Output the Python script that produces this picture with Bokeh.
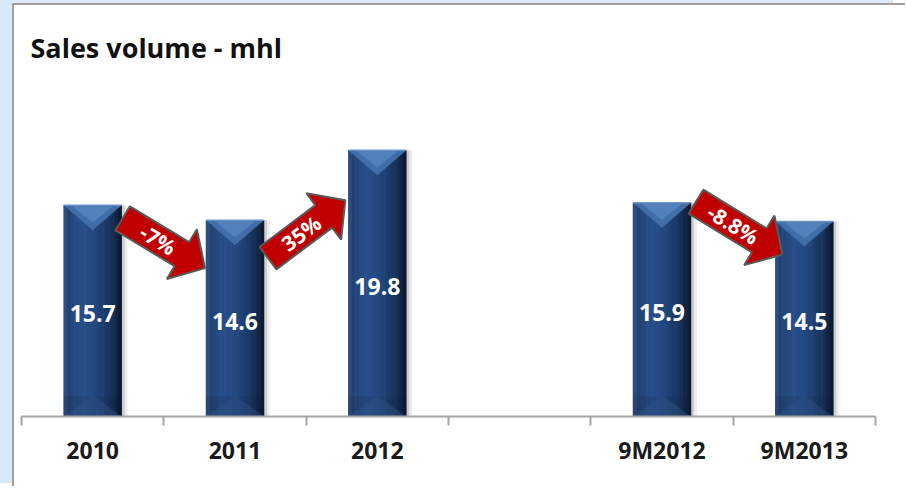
import math
from bokeh.plotting import figure
from bokeh.models import FixedTicker, Range1d
from bokeh.core.properties import value
from bokeh.embed import file_html
from bokeh.resources import INLINE

# ---------------- data ----------------
title_text = "Sales volume - mhl"
annual_labels = ["2010", "2011", "2012"]
annual_volume = [15.7, 14.6, 19.8]
nine_month_labels = ["9M2012", "9M2013"]
nine_month_volume = [15.9, 14.5]
change_labels = ["-7%", "35%", "-8.8%"]
change_pairs = [(0, 1), (1, 2), (3, 4)]

labels = annual_labels + nine_month_labels
volumes = annual_volume + nine_month_volume
slots = list(range(len(annual_labels))) + [len(annual_labels) + 1 + i for i in range(len(nine_month_labels))]
n_slots = slots[-1] + 1

# ---------------- geometry (image pixels) ----------------
CX0, CY0 = 14, 5          # image position of the canvas (inside the frame border)
W, H = 893, 483
AX_L, AX_R = 21, 875      # ends of the category axis
BASE = 416                # baseline
S_X = (AX_R - AX_L) / n_slots
S_Y = 13.45
FRAME_BOTTOM = 418

def x_of(px):
    return -0.5 + (px - AX_L) / S_X

def y_of(py):
    return (BASE - py) / S_Y

def px_of(x):
    return AX_L + (x + 0.5) * S_X

def py_of(y):
    return BASE - y * S_Y

FONT = value("Open Sans")

p = figure(width=W, height=H, output_backend="svg", toolbar_location=None,
           x_range=Range1d(x_of(CX0), x_of(CX0 + W)),
           y_range=Range1d(y_of(FRAME_BOTTOM), y_of(CY0)),
           min_border_left=0, min_border_right=0, min_border_top=0,
           min_border_bottom=CY0 + H - FRAME_BOTTOM)
p.yaxis.visible = False
p.xgrid.visible = False
p.ygrid.visible = False
p.outline_line_color = None
p.background_fill_color = "white"
p.border_fill_color = "white"
p.styles = {"border-left": "2px solid #a0a0a0", "border-top": "2px solid #a0a0a0",
            "margin-left": "12px", "margin-top": "3px",
            "box-shadow": "-12px -3px 0 0 #d9e9f7"}

# ---------------- axis ----------------
ax = p.xaxis[0]
ax.ticker = FixedTicker(ticks=slots, minor_ticks=[i - 0.5 for i in range(n_slots + 1)])
ax.major_label_overrides = {s: l for s, l in zip(slots, labels)}
ax.axis_line_color = None
ax.major_tick_line_color = None
ax.major_tick_in = 0
ax.major_tick_out = 0
ax.minor_tick_line_color = "#a6a6a6"
ax.minor_tick_line_width = 2
ax.minor_tick_in = 2
ax.minor_tick_out = 7
ax.major_label_standoff = 8
ax.major_label_text_font = "Open Sans"
ax.major_label_text_font_style = "bold"
ax.major_label_text_font_size = "23px"
ax.major_label_text_color = "#1a1a1a"

# ---------------- bars ----------------
BAR_W = 58 / S_X
half = BAR_W / 2

# soft shadow
for off, alpha, grow in [(4, 0.07, 4), (2, 0.13, 2)]:
    p.vbar(x=[s + off / S_X for s in slots], top=volumes,
           bottom=0, width=BAR_W + grow / S_X, fill_color="black", fill_alpha=alpha,
           line_color=None)

profile = [(0.0, (0x3a, 0x56, 0x80)), (0.07, (0x22, 0x41, 0x72)), (0.33, (0x28, 0x4f, 0x8b)),
           (0.6, (0x20, 0x44, 0x79)), (0.85, (0x15, 0x2e, 0x55)), (1.0, (0x0a, 0x16, 0x2c))]

def shade(t):
    for (t0, c0), (t1, c1) in zip(profile[:-1], profile[1:]):
        if t0 <= t <= t1:
            f = (t - t0) / (t1 - t0)
            return "#%02x%02x%02x" % tuple(int(round(a + (b - a) * f)) for a, b in zip(c0, c1))
    return "#%02x%02x%02x" % profile[-1][1]

N = 16
for k in range(N):
    t = (k + 0.5) / N
    off = -half + t * BAR_W
    p.vbar(x=[s + off for s in slots], top=volumes, bottom=0, width=BAR_W / N * 1.15,
           fill_color=shade(t), line_color=None)

# bottom bevel
p.vbar(x=slots, top=[20 / S_Y] * len(slots), bottom=0, width=BAR_W,
       fill_color="#0d1c35", fill_alpha=0.15, line_color=None)
p.patches(xs=[[s - half, s + half, s] for s in slots],
          ys=[[0, 0, 21 / S_Y] for s in slots],
          fill_color="#33578c", fill_alpha=0.4, line_color=None)

# top bevel
p.patches(xs=[[s - half, s + half, s] for s in slots],
          ys=[[v, v, v - 25 / S_Y] for v in volumes],
          fill_color="#416ea9", line_color=None)
p.patches(xs=[[s - half * 0.7, s + half * 0.7, s] for s in slots],
          ys=[[v - 1 / S_Y, v - 1 / S_Y, v - 17 / S_Y] for v in volumes],
          fill_color="#5b89c5", fill_alpha=0.7, line_color=None)
p.segment(x0=[s - half for s in slots], x1=[s + half for s in slots],
          y0=volumes, y1=volumes, line_color="#6d93c4", line_width=1.5)

# baseline
p.segment(x0=[-0.5], x1=[n_slots - 0.5], y0=[0], y1=[0], line_color="#a6a6a6", line_width=2)

# value labels
p.text(x=slots, y=[v / 2 - 3 / S_Y for v in volumes], text=[f"{v:.1f}" for v in volumes],
       text_color="white", text_font=FONT, text_font_style="bold", text_font_size="23px",
       text_align="center", text_baseline="middle")

# ---------------- change arrows ----------------
tail_off = [(1, 13), (4, 38), (5, -1)]     # px from top-right corner of the start bar
tip_off = [(-1, 48), (-3, 50), (7, 33)]    # px from top-left corner of the end bar
SHAFT, HEAD, HEAD_LEN = 14, 29, 27

axs, ays, tx_, ty_, ang_ = [], [], [], [], []
for (a, b), (tdx, tdy), (hdx, hdy) in zip(change_pairs, tail_off, tip_off):
    x0 = px_of(slots[a] + half) + tdx
    y0 = py_of(volumes[a]) + tdy
    x1 = px_of(slots[b] - half) + hdx
    y1 = py_of(volumes[b]) + hdy
    L = math.hypot(x1 - x0, y1 - y0)
    dx, dy = (x1 - x0) / L, (y1 - y0) / L
    nx, ny = -dy, dx
    local = [(0, -SHAFT), (L - HEAD_LEN, -SHAFT), (L - HEAD_LEN, -HEAD), (L, 0),
             (L - HEAD_LEN, HEAD), (L - HEAD_LEN, SHAFT), (0, SHAFT)]
    pts = [(x0 + u * dx + w * nx, y0 + u * dy + w * ny) for u, w in local]
    axs.append([x_of(px) for px, _ in pts])
    ays.append([y_of(py) for _, py in pts])
    cu = 0.43 * L
    tx_.append(x_of(x0 + cu * dx))
    ty_.append(y_of(y0 + cu * dy))
    ang_.append(-math.atan2(dy, dx))

p.patches(xs=axs, ys=ays, fill_color="#c00000", line_color="#5a5a5a", line_width=2)
p.text(x=tx_, y=ty_, text=change_labels, angle=ang_, text_color="white", text_font=FONT,
       text_font_style="bold", text_font_size="21px", text_align="center",
       text_baseline="middle")

# ---------------- title ----------------
p.text(x=[x_of(30)], y=[y_of(47)], text=[title_text], text_color="#111111", text_font=FONT,
       text_font_style="bold", text_font_size="27px", text_align="left",
       text_baseline="alphabetic")

open("out.html", "w").write(file_html(p, INLINE))
